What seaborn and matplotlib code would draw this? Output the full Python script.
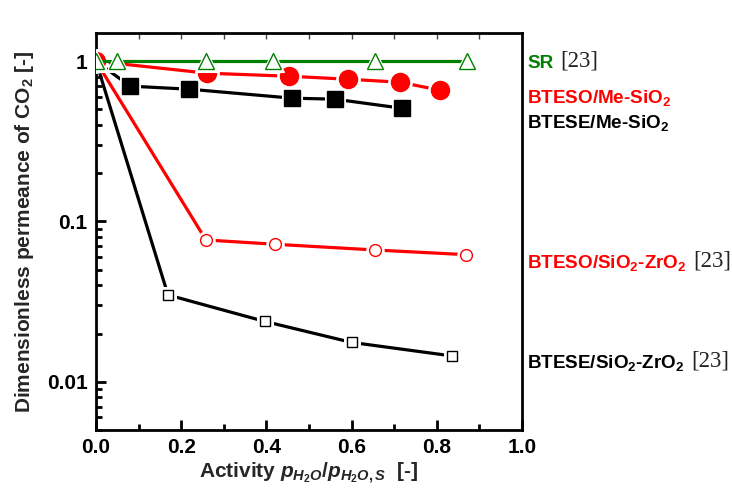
import numpy as np
import pandas as pd
import matplotlib
matplotlib.use("Agg")
import matplotlib.pyplot as plt
import seaborn as sns
from matplotlib.ticker import FixedLocator, NullFormatter, LogLocator

sns.set_theme(style="ticks")
plt.rcParams['font.family'] = ['Liberation Sans', 'DejaVu Sans']
plt.rcParams['mathtext.fontset'] = 'custom'
plt.rcParams['mathtext.rm'] = 'Liberation Sans:bold'
plt.rcParams['mathtext.bf'] = 'Liberation Sans:bold'
plt.rcParams['mathtext.it'] = 'Liberation Sans:bold:italic'
plt.rcParams['mathtext.default'] = 'rm'
plt.rcParams.update({
    'xtick.direction': 'in', 'ytick.direction': 'in',
    'xtick.bottom': True, 'ytick.left': True,
    'xtick.top': False, 'ytick.right': False,
    'xtick.major.size': 7, 'ytick.major.size': 7,
    'xtick.minor.size': 4, 'ytick.minor.size': 4,
    'xtick.major.width': 2, 'ytick.major.width': 2,
    'xtick.minor.width': 2, 'ytick.minor.width': 2,
    'xtick.color': 'black', 'ytick.color': 'black',
    'axes.edgecolor': 'black', 'axes.linewidth': 2.0,
})

# ---- data ----
sr_x = [0.0, 0.049, 0.259, 0.416, 0.656, 0.871]
sr_y = [1.0, 1.0, 1.0, 1.0, 1.0, 1.0]

btesome_x = [0.0, 0.261, 0.454, 0.591, 0.713, 0.807]
btesome_y = [1.0, 0.842, 0.806, 0.772, 0.740, 0.660]

btesem_x = [0.0, 0.080, 0.219, 0.461, 0.560, 0.718]
btesem_y = [1.0, 0.699, 0.669, 0.588, 0.580, 0.509]

btesozr_x = [0.0, 0.258, 0.420, 0.655, 0.868]
btesozr_y = [1.0, 0.0767, 0.0721, 0.0664, 0.0621]

btesezr_x = [0.0, 0.169, 0.396, 0.600, 0.835]
btesezr_y = [1.0, 0.0348, 0.0238, 0.0176, 0.0145]

x_ticks = [0.0, 0.2, 0.4, 0.6, 0.8, 1.0]
x_ticklabels = ["0.0", "0.2", "0.4", "0.6", "0.8", "1.0"]
y_ticks = [0.01, 0.1, 1]
y_ticklabels = ["0.01", "0.1", "1"]

GREEN = "#008000"
RED = "#ff0000"
BLACK = "#000000"

fig = plt.figure(figsize=(7.32, 4.98), dpi=100)
ax = fig.add_axes([96/732, 1-430/498, (522-96)/732, (430-33)/498])

series = [
    # x, y, color, marker, size, filled
    (btesezr_x, btesezr_y, BLACK, 's', 7.5, False),
    (btesozr_x, btesozr_y, RED, 'o', 8.5, False),
    (btesem_x, btesem_y, BLACK, 's', 11, True),
    (btesome_x, btesome_y, RED, 'o', 13, True),
    (sr_x, sr_y, GREEN, '^', 12, False),
]

for i, (xs, ys, col, mk, ms, filled) in enumerate(series):
    df = pd.DataFrame({"x": xs, "y": ys})
    z = 2 + i
    sns.lineplot(data=df, x="x", y="y", ax=ax, color=col, linewidth=2.3,
                 sort=False, estimator=None, zorder=z)
    # white halo to create gaps between lines and markers
    sns.lineplot(data=df, x="x", y="y", ax=ax, color="white", linestyle="",
                 marker=mk, markersize=ms + 4, markerfacecolor="white",
                 markeredgecolor="white", sort=False, estimator=None, zorder=z + 0.3)
    sns.lineplot(data=df, x="x", y="y", ax=ax, color=col, linestyle="",
                 marker=mk, markersize=ms,
                 markerfacecolor=(col if filled else "white"),
                 markeredgecolor=col, markeredgewidth=1.0,
                 sort=False, estimator=None, zorder=z + 0.6)

ax.set_yscale("log")
ax.set_xlim(0, 1.0)
ax.set_ylim(0.005, 1.5)

ax.xaxis.set_major_locator(FixedLocator(x_ticks))
ax.set_xticklabels(x_ticklabels)
ax.xaxis.set_minor_locator(FixedLocator([0.1, 0.3, 0.5, 0.7, 0.9]))
ax.yaxis.set_major_locator(FixedLocator(y_ticks))
ax.set_yticklabels(y_ticklabels)
ax.yaxis.set_minor_locator(LogLocator(base=10, subs=np.arange(2, 10)))
ax.yaxis.set_minor_formatter(NullFormatter())
ax.tick_params(axis="both", which="major", labelsize=15, pad=6)
for lbl in ax.get_xticklabels() + ax.get_yticklabels():
    lbl.set_fontweight("bold")

# thin top ticks
sec = ax.secondary_xaxis("top")
sec.xaxis.set_major_locator(FixedLocator([0.1, 0.2, 0.3, 0.4, 0.5, 0.6, 0.7, 0.8, 0.9]))
sec.tick_params(direction="in", length=4, width=1.0, colors="#444444",
                labeltop=False, top=True)
sec.spines["top"].set_visible(False)

for s in ax.spines.values():
    s.set_linewidth(2.0)
    s.set_color("black")
    s.set_visible(True)

ax.set_xlabel(r"Activity $\mathit{p}_{\mathit{H_2O}}/\mathit{p}_{\mathit{H_2O,S}}$  [-]",
              fontsize=15, fontweight="bold", labelpad=2)
ax.set_ylabel(r"Dimensionless permeance of CO$_2$ [-]", fontsize=15,
              fontweight="bold", labelpad=8)

# right-hand labels
labels = [
    ("SR", GREEN, 68, True),
    ("BTESO/Me-SiO$_2$", RED, 103, False),
    ("BTESE/Me-SiO$_2$", BLACK, 128, False),
    ("BTESO/SiO$_2$-ZrO$_2$", RED, 268, True),
    ("BTESE/SiO$_2$-ZrO$_2$", BLACK, 368, True),
]
fig.canvas.draw()
renderer = fig.canvas.get_renderer()
for txt, col, ybase, ref in labels:
    t = fig.text(527/732, 1-ybase/498, txt, color=col, fontsize=13.6,
                 fontweight="bold", va="baseline", ha="left")
    if ref:
        bb = t.get_window_extent(renderer)
        fig.text((bb.x1 + 7)/732, 1-(ybase-2)/498, "[23]", color="#222222",
                 fontsize=16.5, family=["Liberation Serif", "DejaVu Serif"],
                 va="baseline", ha="left")

fig.savefig("out.png", dpi=100)
